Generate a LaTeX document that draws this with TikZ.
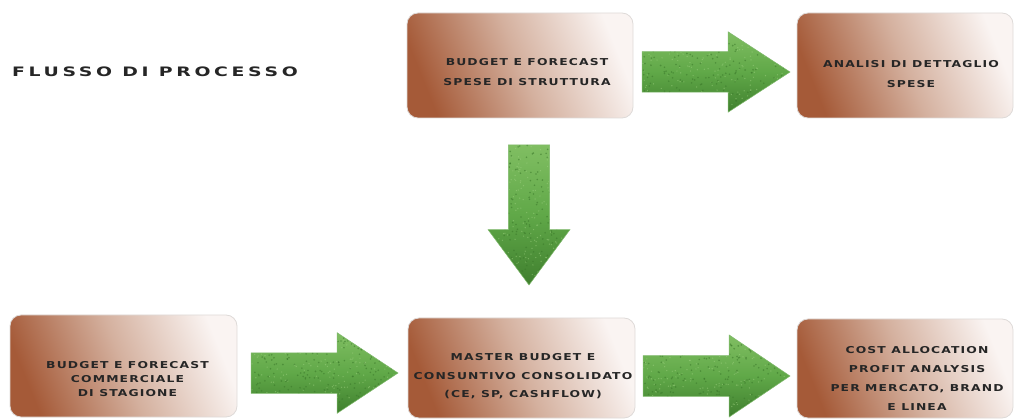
\documentclass[tikz,border=0pt]{standalone}
\usepackage{fontspec}
\usetikzlibrary{shapes.arrows,calc}
\newfontfamily\boxfont[FakeStretch=1.3,LetterSpace=12]{DejaVu Sans}
\newfontfamily\titlefont[FakeStretch=1.45,LetterSpace=28]{DejaVu Sans}
\definecolor{browndark}{RGB}{165,90,56}
\definecolor{brownmid}{RGB}{212,176,158}
\definecolor{brownlight}{RGB}{250,244,242}
\definecolor{boxline}{RGB}{222,218,216}
\definecolor{txt}{RGB}{38,38,38}
\definecolor{grassbase}{RGB}{96,168,72}
\definecolor{grasslight}{RGB}{128,190,98}
\definecolor{grassdark}{RGB}{58,120,42}
\definecolor{grassspeck}{RGB}{160,210,130}
\tikzset{
  procbox/.style={rectangle, rounded corners=11pt, draw=boxline, line width=0.8pt,
    left color=browndark, right color=brownlight, middle color=brownmid, shading angle=112,
    inner sep=0pt, outer sep=0pt},
  grassarrow/.style={single arrow, inner sep=20pt, outer sep=0pt, anchor=tail, draw=grassbase!80!white, line width=0.5pt,
    top color=grasslight, bottom color=grassdark!85!grassbase, middle color=grassbase,
    path picture={
      \foreach \k in {1,...,420}{
        \pgfmathsetmacro\uu{rnd}\pgfmathsetmacro\vv{rnd}\pgfmathsetmacro\ww{rnd}
        \ifdim\ww pt<0.5pt
          \fill[grassdark,opacity=.55] let \p1=(path picture bounding box.south west), \p2=(path picture bounding box.north east) in
            (\x1+\uu*\x2-\uu*\x1,\y1+\vv*\y2-\vv*\y1) circle (0.9pt);
        \else
          \fill[grassspeck,opacity=.5] let \p1=(path picture bounding box.south west), \p2=(path picture bounding box.north east) in
            (\x1+\uu*\x2-\uu*\x1,\y1+\vv*\y2-\vv*\y1) circle (0.7pt);
        \fi
      }
    }},
  boxtext/.style={inner sep=0pt, align=center, text=txt, font=\boxfont\bfseries\fontsize{9.5}{#1}\selectfont}
}
\pgfmathsetseed{11}
\begin{document}
\begin{tikzpicture}[x=1pt,y=-1pt]
\useasboundingbox (0,0) rectangle (1014,419);

\node[anchor=base west, text=txt, font=\titlefont\bfseries\fontsize{13}{15}\selectfont, inner sep=0pt] (title) at (12,77) {FLUSSO DI PROCESSO};

\node[procbox, minimum width=226pt, minimum height=105pt] (A) at (520,65.5) {};
\node[procbox, minimum width=216pt, minimum height=105pt] (B) at (905,65.5) {};
\node[procbox, minimum width=227pt, minimum height=102pt] (C) at (123.5,366) {};
\node[procbox, minimum width=227pt, minimum height=100pt] (D) at (521.5,368) {};
\node[procbox, minimum width=216pt, minimum height=99pt] (E) at (905,368.5) {};

\node[boxtext=20] (At) at (527,72) {BUDGET E FORECAST\\SPESE DI STRUTTURA};
\node[boxtext=20] (Bt) at (911,74) {ANALISI DI DETTAGLIO\\SPESE};
\node[boxtext=14] (Ct) at (127.5,379) {BUDGET E FORECAST\\COMMERCIALE\\DI STAGIONE};
\node[boxtext=18.5] (Dt) at (523,376.5) {MASTER BUDGET E\\CONSUNTIVO CONSOLIDATO\\(CE, SP, CASHFLOW)};
\node[boxtext=19] (Et) at (917,378) {COST ALLOCATION\\PROFIT ANALYSIS\\PER MERCATO, BRAND\\E LINEA};

\node[grassarrow, minimum height=148pt, minimum width=80pt, single arrow head extend=20pt, single arrow tip angle=66] (a1) at (642,72) {};
\node[grassarrow, minimum height=140pt, minimum width=82pt, single arrow head extend=20pt, single arrow tip angle=73, shape border rotate=270] (a2) at (529,145) {};
\node[grassarrow, minimum height=147pt, minimum width=80pt, single arrow head extend=20pt, single arrow tip angle=67] (a3) at (251,373) {};
\node[grassarrow, minimum height=147pt, minimum width=82pt, single arrow head extend=20.5pt, single arrow tip angle=68] (a4) at (643,376) {};
\end{tikzpicture}
\end{document}
